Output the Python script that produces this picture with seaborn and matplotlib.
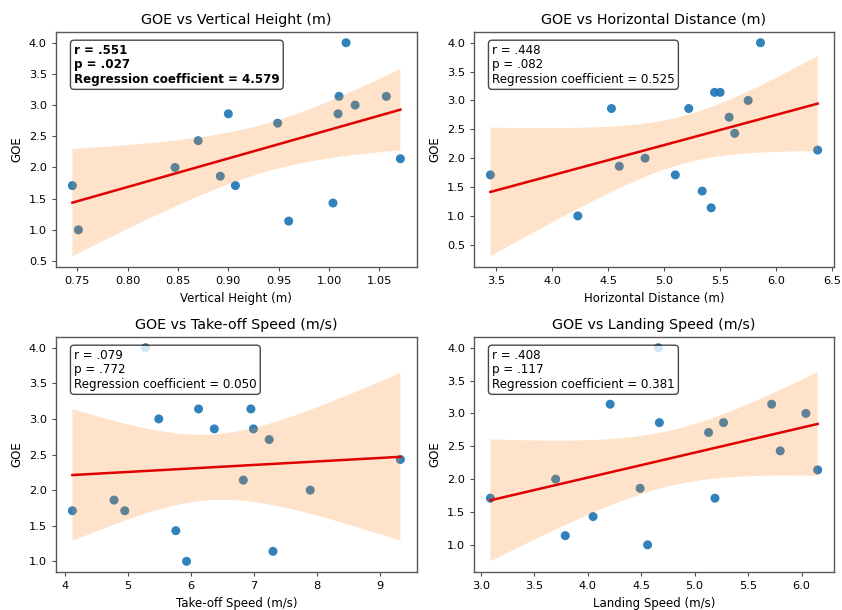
import matplotlib
matplotlib.use("Agg")
import matplotlib.pyplot as plt
import seaborn as sns
import numpy as np
import pandas as pd

# ---- data ----
goe = [4.0, 1.0, 1.14, 1.43, 1.71, 1.71, 1.86, 2.0, 2.14, 2.43, 2.71, 2.86, 2.86, 3.0, 3.14, 3.14]
vertical_height = [1.017, 0.751, 0.960, 1.004, 0.745, 0.907, 0.892, 0.847, 1.071, 0.870, 0.949, 0.900, 1.009, 1.026, 1.010, 1.057]
horizontal_distance = [5.86, 4.23, 5.42, 5.34, 3.45, 5.10, 4.60, 4.83, 6.37, 5.63, 5.58, 4.53, 5.22, 5.75, 5.45, 5.50]
takeoff_speed = [5.28, 5.93, 7.30, 5.76, 4.12, 4.95, 4.78, 7.89, 6.83, 9.32, 7.24, 6.37, 6.99, 5.49, 6.12, 6.95]
landing_speed = [4.66, 4.56, 3.79, 4.05, 3.09, 5.19, 4.49, 3.70, 6.15, 5.80, 5.13, 4.67, 5.27, 6.04, 4.21, 5.72]

variables = ["Vertical Height (m)", "Horizontal Distance (m)", "Take-off Speed (m/s)", "Landing Speed (m/s)"]
r_labels = [".551", ".448", ".079", ".408"]
p_labels = [".027", ".082", ".772", ".117"]
coef_labels = ["4.579", "0.525", "0.050", "0.381"]
bold_flags = [True, False, False, False]

T_975 = 2.145  # Student t quantile, 14 degrees of freedom

df = pd.DataFrame({
    "GOE": goe,
    variables[0]: vertical_height,
    variables[1]: horizontal_distance,
    variables[2]: takeoff_speed,
    variables[3]: landing_speed,
})

fig = plt.figure(figsize=(8.42, 6.10), dpi=100)
positions = [
    [0.0665, 0.5623, 0.4285, 0.3852],
    [0.5630, 0.5623, 0.4275, 0.3852],
    [0.0665, 0.0623, 0.4285, 0.3852],
    [0.5630, 0.0623, 0.4275, 0.3852],
]

for i, var in enumerate(variables):
    ax = fig.add_axes(positions[i])
    sns.scatterplot(data=df, x=var, y="GOE", ax=ax, color="#1f77b4",
                    s=42, edgecolor="none", alpha=0.92, zorder=2)
    # analytic 95% confidence band of the fitted line
    x = df[var].to_numpy()
    y = df["GOE"].to_numpy()
    n = len(x)
    slope, intercept = np.polyfit(x, y, 1)
    resid = y - (slope * x + intercept)
    s_err = np.sqrt(np.sum(resid ** 2) / (n - 2))
    grid = np.linspace(x.min(), x.max(), 100)
    yhat = slope * grid + intercept
    half = T_975 * s_err * np.sqrt(1 / n + (grid - x.mean()) ** 2 / np.sum((x - x.mean()) ** 2))
    ax.fill_between(grid, yhat - half, yhat + half, facecolor="#ff7f0e",
                    alpha=0.22, linewidth=0, zorder=3)
    # regression line (red)
    sns.regplot(data=df, x=var, y="GOE", ax=ax, scatter=False, ci=None,
                color="#e00000", line_kws={"linewidth": 1.8, "zorder": 4})
    ax.set_title(f"GOE vs {var}", fontsize=10.3)
    ax.set_xlabel(var, fontsize=8.5)
    ax.set_ylabel("GOE", fontsize=8.5)
    ax.tick_params(labelsize=8.2, color="0.3", length=3)
    for sp in ax.spines.values():
        sp.set_color("0.35")
        sp.set_linewidth(1.0)
    txt = f"r = {r_labels[i]}\np = {p_labels[i]}\nRegression coefficient = {coef_labels[i]}"
    ax.text(0.05, 0.95, txt, transform=ax.transAxes, va="top", ha="left",
            fontsize=8.6, fontweight="bold" if bold_flags[i] else "normal",
            linespacing=1.15, zorder=6,
            bbox=dict(boxstyle="round,pad=0.3", facecolor="white", alpha=0.8,
                      edgecolor="0.1", linewidth=1.0))

fig.savefig("out.png", dpi=100)
